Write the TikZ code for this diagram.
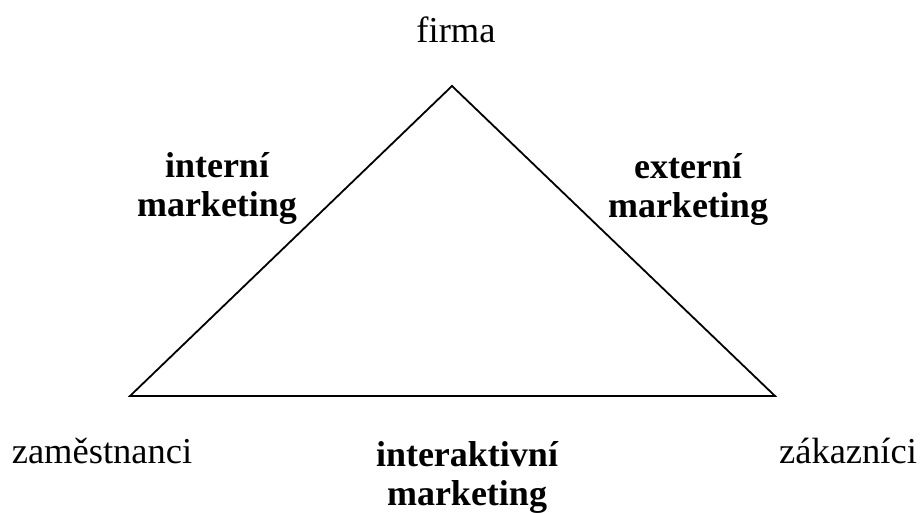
\documentclass[tikz,border=0pt]{standalone}
\usepackage{fontspec}
\setmainfont{Liberation Serif}
\begin{document}
\begin{tikzpicture}[x=1pt,y=-1pt,
  lbl/.style={font=\fontsize{36.5}{41}\selectfont, inner sep=0pt, anchor=base},
  blbl/.style={font=\fontsize{36}{39}\selectfont\bfseries, inner sep=0pt, align=center, anchor=base},
  edge/.style={draw=black, line width=1.8pt, line join=miter}]
  \useasboundingbox (0,0) rectangle (923,513);
  % corners of the triangle
  \coordinate (top) at (452,86);
  \coordinate (left) at (130,396);
  \coordinate (right) at (775,396);
  \draw[edge] (top) -- (right) -- (left) -- cycle;
  % corner labels
  \node[lbl] (firma) at (456,43) {firma};
  \node[lbl] (zam) at (102,463) {zaměstnanci};
  \node[lbl] (zak) at (848,463) {zákazníci};
  % side labels (anchored at the baseline of their last line)
  \node[blbl] (int) at (217,216) {interní\\marketing};
  \node[blbl] (ext) at (688,217) {externí\\marketing};
  \node[blbl] (inter) at (467,505) {interaktivní\\marketing};
\end{tikzpicture}
\end{document}
